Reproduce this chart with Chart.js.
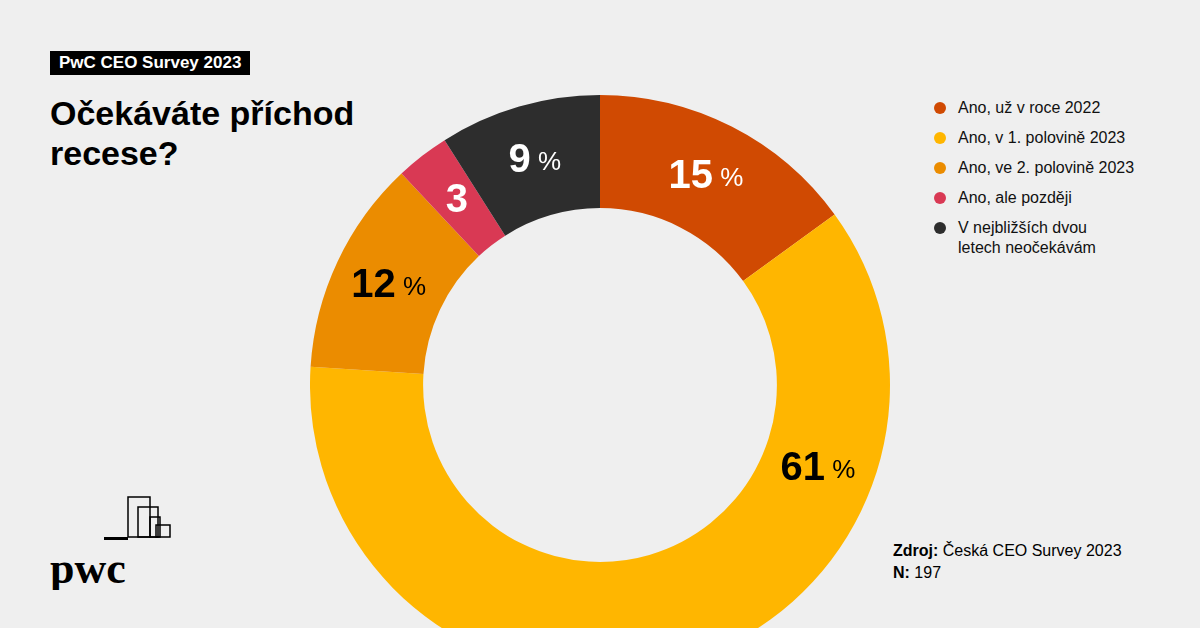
<!DOCTYPE html>
<html><head><meta charset="utf-8">
<script src="https://cdn.jsdelivr.net/npm/chart.js@4"></script>
<style>
body{margin:0;width:1200px;height:628px;overflow:hidden;background:#efefef;font-family:"Liberation Sans",Arial,sans-serif;position:relative}
#tag{position:absolute;left:50px;top:51px;background:#000;color:#fff;font-weight:700;font-size:17px;padding:2px 9px}
#title{position:absolute;left:50px;top:93px;font-weight:700;font-size:34px;line-height:40px;color:#000}
#wrap{position:absolute;left:310px;top:95px;width:580px;height:580px}
#legend{position:absolute;left:934px;top:98px;font-size:16px;color:#111}
#legend div{position:relative;padding-left:24px;line-height:20px;margin-bottom:10px}
#legend span{position:absolute;left:0;top:4px;width:12px;height:12px;border-radius:50%}
#src{position:absolute;left:893px;top:540px;font-size:16px;line-height:22px}
#logo{position:absolute;left:50px;top:495px}
</style></head><body>
<div id="tag">PwC CEO Survey 2023</div>
<div id="title">Očekáváte příchod<br>recese?</div>
<div id="wrap"><canvas id="c"></canvas></div>
<div id="legend"></div>
<div id="src"><b>Zdroj:</b> Česká CEO Survey 2023<br><b>N:</b> 197</div>
<svg id="logo" width="125" height="95" viewBox="0 0 125 95">
<g fill="none" stroke="#000" stroke-width="1.5">
<rect x="78" y="2" width="22" height="40"/><rect x="88" y="12" width="20" height="30"/><rect x="100" y="22" width="10" height="20"/><rect x="106" y="30" width="14" height="12"/>
</g>
<rect x="54" y="42" width="24" height="3" fill="#000"/>
<text x="0" y="88" font-family="Georgia,serif" font-weight="700" font-size="44" fill="#000">pwc</text>
</svg>
<script>
var labels = ['Ano, už v roce 2022','Ano, v 1. polovině 2023','Ano, ve 2. polovině 2023','Ano, ale později','V nejbližších dvou letech neočekávám'];
var values = [15, 61, 12, 3, 9];
var colors = ['#d04a02','#ffb600','#eb8c00','#d93954','#2d2d2d'];
var textColors = ['#fff','#000','#000','#fff','#fff'];
var showPct = [true, true, true, false, true];

var leg = document.getElementById('legend');
labels.forEach(function(l, i){
  var d = document.createElement('div');
  d.innerHTML = '<span style="background:' + colors[i] + '"></span>' + (i == 4 ? 'V nejbližších dvou<br>letech neočekávám' : l);
  leg.appendChild(d);
});

var valueLabels = {
  id: 'valueLabels',
  afterDatasetsDraw: function(chart){
    var ctx = chart.ctx;
    chart.getDatasetMeta(0).data.forEach(function(arc, i){
      var p = arc.tooltipPosition();
      if (i == 1) { // big slice label sits on the right, in view
        var a = (111 - 90) * Math.PI / 180, r = (arc.outerRadius + arc.innerRadius) / 2;
        p = { x: arc.x + r * Math.cos(a), y: arc.y + r * Math.sin(a) };
      }
      var num = String(values[i]);
      ctx.save();
      ctx.textBaseline = 'middle';
      ctx.fillStyle = textColors[i];
      ctx.font = '700 40px "Liberation Sans", Arial, sans-serif';
      var w1 = ctx.measureText(num).width;
      ctx.font = '400 26px "Liberation Sans", Arial, sans-serif';
      var w2 = showPct[i] ? ctx.measureText(' %').width : 0;
      var x = p.x - (w1 + w2) / 2;
      ctx.font = '700 40px "Liberation Sans", Arial, sans-serif';
      ctx.textAlign = 'left';
      ctx.fillText(num, x, p.y);
      if (showPct[i]) {
        ctx.font = '400 26px "Liberation Sans", Arial, sans-serif';
        ctx.fillText(' %', x + w1, p.y + 2);
      }
      ctx.restore();
    });
  }
};

new Chart(document.getElementById('c'), {
  type: 'doughnut',
  data: { labels: labels, datasets: [{ data: values, backgroundColor: colors, borderWidth: 0 }] },
  options: {
    responsive: true, maintainAspectRatio: false, animation: false,
    cutout: '61%',
    plugins: { legend: { display: false }, tooltip: { enabled: false } }
  },
  plugins: [valueLabels]
});
</script>
</body></html>
